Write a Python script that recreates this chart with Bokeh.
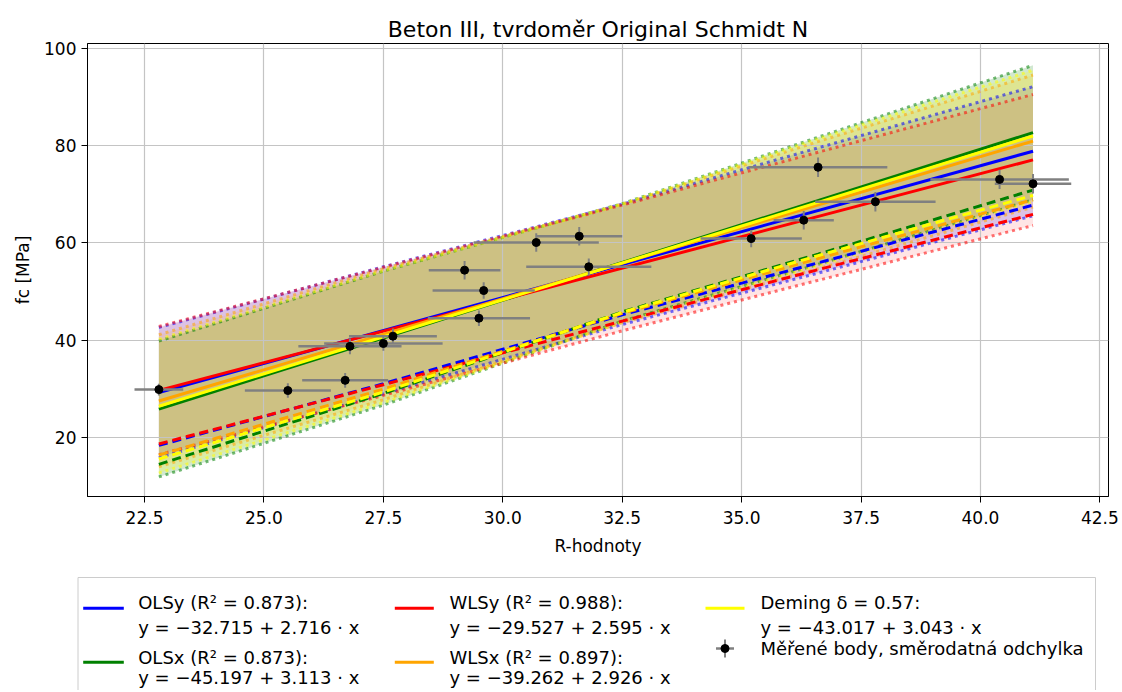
import numpy as np
from bokeh.plotting import figure
from bokeh.models import Range1d, FixedTicker, PrintfTickFormatter
from bokeh.layouts import column
from bokeh.embed import file_html
from bokeh.resources import INLINE
from bokeh.core.properties import value

# ---------------- data ----------------
x_meas = [22.8, 25.5, 26.7, 26.8, 27.5, 27.7, 29.2, 29.5, 29.6, 30.7, 31.6, 31.8,
          35.2, 36.3, 36.6, 37.8, 40.4, 41.1]
y_meas = [29.8, 29.6, 31.7, 38.7, 39.3, 40.8, 54.4, 44.5, 50.2, 60.1, 61.4, 55.1,
          60.9, 64.7, 75.6, 68.5, 73.1, 72.2]
x_err = [0.51, 0.90, 0.90, 1.08, 1.24, 0.92, 0.75, 1.07, 1.07, 1.31, 0.90, 1.31,
         1.06, 0.63, 1.45, 1.26, 1.45, 0.80]
y_err = [1.2, 1.5, 1.5, 1.6, 1.5, 1.6, 1.9, 1.6, 1.7, 1.9, 1.9, 1.7,
         1.8, 1.9, 2.0, 2.0, 2.0, 2.0]

model_names = ["OLSy", "OLSx", "WLSy", "WLSx", "Deming"]
intercepts = [-32.715, -45.197, -29.527, -39.262, -43.017]
slopes = [2.716, 3.113, 2.595, 2.926, 3.043]
r_squared = [0.873, 0.873, 0.988, 0.897]
deming_delta = 0.57
model_colors = ["blue", "green", "red", "orange", "yellow"]
fill_alphas = [0.15, 0.18, 0.10, 0.12, 0.20]

# band edges (dotted = prediction band, dashed = lower characteristic line)
band_x = [22.8, 27.5, 32.5, 36.6, 41.1]
band_upper = {
    "OLSy":   [42.6, 55.1, 68.0, 79.6, 92.2],
    "OLSx":   [39.8, 54.2, 68.1, 81.8, 96.6],
    "WLSy":   [42.8, 55.0, 67.8, 78.7, 90.6],
    "WLSx":   [41.1, 54.7, 68.0, 80.9, 94.6],
    "Deming": [40.2, 54.3, 68.0, 81.5, 95.6],
}
band_lower = {
    "OLSy":   [15.8, 28.9, 43.2, 53.8, 65.6],
    "OLSx":   [11.8, 26.6, 43.9, 55.6, 68.9],
    "WLSy":   [16.4, 28.6, 41.9, 52.3, 63.6],
    "WLSx":   [13.9, 27.7, 43.6, 54.7, 67.4],
    "Deming": [12.6, 27.1, 43.7, 55.3, 68.5],
}
band_char = {
    "OLSy":   [18.3, 31.0, 45.2, 55.9, 67.8],
    "OLSx":   [14.4, 29.0, 45.8, 57.7, 70.9],
    "WLSy":   [18.6, 30.8, 43.9, 54.5, 65.9],
    "WLSx":   [16.3, 29.9, 45.5, 56.8, 68.9],
    "Deming": [15.5, 29.3, 45.7, 57.4, 69.8],
}

x_ticks = [22.5, 25.0, 27.5, 30.0, 32.5, 35.0, 37.5, 40.0, 42.5]
y_ticks = [20, 40, 60, 80, 100]

title_text = "Beton III, tvrdoměr Original Schmidt N"
x_label = "R-hodnoty"
y_label = "fc [MPa]"
points_label = "Měřené body, směrodatná odchylka"

FONT = "DejaVu Sans"
W = 1120
H_MAIN = 560
H_LEG = 130

# ---------------- main figure ----------------
p = figure(width=W, height=H_MAIN,
           x_range=Range1d(21.306, 42.68), y_range=Range1d(7.77, 101.1),
           output_backend="svg", toolbar_location=None,
           title=title_text,
           min_border_left=87, min_border_right=12,
           min_border_top=43, min_border_bottom=64)
if "frame_align" in p.properties():
    p.frame_align = False
p.background_fill_color = "white"
p.border_fill_color = "white"
p.outline_line_color = "black"
p.outline_line_width = 1

p.title.align = "center"
p.title.vertical_align = "middle"
p.title.text_font = FONT
p.title.text_font_size = "22px"
p.title.text_font_style = "normal"
p.title.text_color = "black"
p.title.standoff = 2

for ax in (p.xaxis, p.yaxis):
    ax.axis_line_color = "black"
    ax.major_tick_line_color = "black"
    ax.major_tick_out = 6
    ax.major_tick_in = 0
    ax.minor_tick_line_color = None
    ax.major_label_text_font = FONT
    ax.major_label_text_font_size = "17px"
    ax.major_label_text_color = "black"
    ax.axis_label_text_font = FONT
    ax.axis_label_text_font_size = "17px"
    ax.axis_label_text_font_style = "normal"
    ax.axis_label_text_color = "black"

p.xaxis.ticker = FixedTicker(ticks=x_ticks)
p.xaxis.formatter = PrintfTickFormatter(format="%.1f")
p.xaxis.major_label_standoff = 8
p.xaxis.axis_label = x_label
p.xaxis.axis_label_standoff = 9
p.yaxis.ticker = FixedTicker(ticks=y_ticks)
p.yaxis.formatter = PrintfTickFormatter(format="%d")
p.yaxis.major_label_standoff = 5
p.yaxis.axis_label = y_label
p.yaxis.axis_label_standoff = 8

p.grid.grid_line_color = "#c4c4c4"
p.grid.grid_line_width = 1.2
p.grid.level = "underlay"

x_line = [min(x_meas), max(x_meas)]

# fills (below grid)
for name, c, fa in zip(model_names, model_colors, fill_alphas):
    p.varea(x=band_x, y1=band_lower[name], y2=band_upper[name],
            fill_color=c, fill_alpha=fa, level="image")

# band edges
for name, c in zip(model_names, model_colors):
    p.line(band_x, band_upper[name], line_color=c, line_width=3,
           line_alpha=0.55, line_dash="3 4")
    p.line(band_x, band_lower[name], line_color=c, line_width=3,
           line_alpha=0.55, line_dash="3 4")
for name, c in zip(model_names, model_colors):
    p.line(band_x, band_char[name], line_color=c, line_width=3,
           line_dash="9 5")

# regression lines
for a, b, c in zip(intercepts, slopes, model_colors):
    xl = np.array(x_line)
    p.line(xl, a + b * xl, line_color=c, line_width=3)

# measured points with error bars
xm = np.array(x_meas); ym = np.array(y_meas)
xe = np.array(x_err); ye = np.array(y_err)
p.segment(x0=xm - xe, x1=xm + xe, y0=ym, y1=ym, line_color="gray", line_width=2.5)
p.segment(x0=xm, x1=xm, y0=ym - ye, y1=ym + ye, line_color="gray", line_width=2)
p.scatter(xm, ym, size=8, fill_color="black", line_color="black")

# ---------------- legend figure ----------------
leg = figure(width=W, height=H_LEG, x_range=Range1d(0, W), y_range=Range1d(H_LEG, 0),
             output_backend="svg", toolbar_location=None, min_border=0,
             x_axis_type=None, y_axis_type=None)
if "frame_align" in leg.properties():
    leg.frame_align = False
leg.outline_line_color = None
leg.background_fill_color = "white"
leg.border_fill_color = "white"

leg.quad(left=[77.5], right=[1095], top=[17], bottom=[170],
         fill_color="white", line_color="#cccccc", line_width=1)

labels1 = []
labels2 = []
for i, name in enumerate(model_names):
    if i < len(r_squared):
        labels1.append(f"{name} (R² = {r_squared[i]:.3f}):")
    else:
        labels1.append(f"{name} δ = {deming_delta:.2f}:")
    labels2.append(f"y = −{abs(intercepts[i]):.3f} + {slopes[i]:.3f} · x")

col_line_x = [(82.7, 123.3), (394.3, 433.3), (705, 744)]
col_text_x = [137.7, 449, 760]
row_line_y = [47.7, 101.7]
row_base = [(42, 67), (96.7, 117.3)]

slots = [(0, 0), (0, 1), (1, 0), (1, 1), (2, 0)]
for i, (ci, ri) in enumerate(slots):
    x0, x1 = col_line_x[ci]
    leg.line([x0, x1], [row_line_y[ri], row_line_y[ri]],
             line_color=model_colors[i], line_width=3)
    leg.text(x=[col_text_x[ci]], y=[row_base[ri][0]], text=[labels1[i]],
             text_font=value(FONT), text_font_size="18px",
             text_baseline="alphabetic", text_align="left", text_color="black")
    leg.text(x=[col_text_x[ci]], y=[row_base[ri][1]], text=[labels2[i]],
             text_font=value(FONT), text_font_size="18px",
             text_baseline="alphabetic", text_align="left", text_color="black")

# points legend entry
mx = (col_line_x[2][0] + col_line_x[2][1]) / 2
my = 88
leg.segment(x0=[mx - 9], x1=[mx + 9], y0=[my], y1=[my], line_color="gray", line_width=2.5)
leg.segment(x0=[mx], x1=[mx], y0=[my - 9], y1=[my + 9], line_color="gray", line_width=2)
leg.scatter([mx], [my], size=8, fill_color="black", line_color="black")
leg.text(x=[col_text_x[2]], y=[my], text=[points_label],
         text_font=value(FONT), text_font_size="18px",
         text_baseline="middle", text_align="left", text_color="black")

layout = column(p, leg, spacing=0)
open("out.html", "w").write(file_html(layout, INLINE))
